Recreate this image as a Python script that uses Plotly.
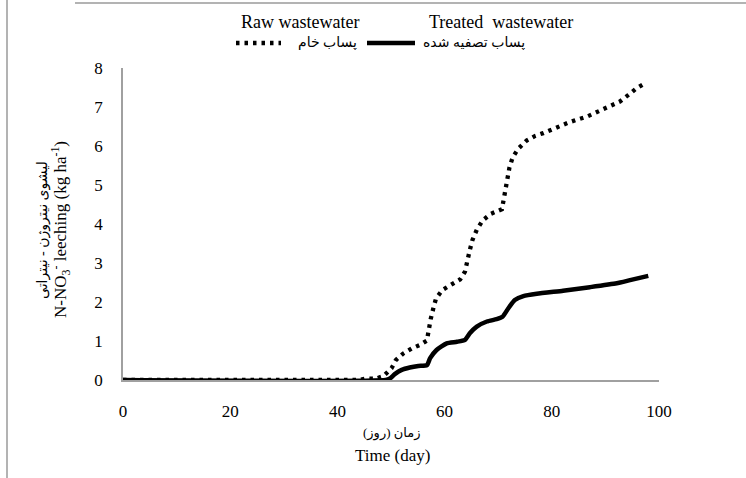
import plotly.graph_objects as go

# ---- data ----
raw_days = [0, 44, 45.5, 47, 48.6, 50.1, 50.9, 52.3, 53.9, 55.4, 56.7, 57.0, 57.4, 57.9,
            58.4, 59.6, 61.1, 62.9, 63.8, 64.2, 64.7, 65.2, 66.0, 67.1, 68.6, 70.7, 71.3,
            71.6, 72.1, 72.7, 73.8, 75.3, 76.9, 78.4, 80.0, 81.5, 83.1, 84.6, 86.5, 88.1,
            89.6, 91.2, 92.7, 94.3, 95.8, 97.4]
raw_vals = [0, 0, 0.04, 0.03, 0.1, 0.3, 0.51, 0.68, 0.81, 0.9, 1.01, 1.28, 1.56, 1.84,
            2.09, 2.31, 2.44, 2.58, 2.78, 3.06, 3.33, 3.59, 3.85, 4.09, 4.26, 4.38, 4.89,
            5.17, 5.45, 5.71, 5.94, 6.14, 6.26, 6.33, 6.43, 6.51, 6.6, 6.67, 6.75, 6.85,
            6.94, 7.03, 7.14, 7.31, 7.48, 7.61]

treated_days = [0, 49, 49.8, 50.7, 52.0, 53.5, 55.1, 56.7, 57.3, 58.5, 60.4, 62.3, 63.8,
                64.7, 66.0, 67.9, 69.7, 70.8, 71.9, 73.1, 74.7, 77.2, 82.1, 87.1, 92.1,
                94.6, 98.0]
treated_vals = [0, 0, 0.04, 0.15, 0.26, 0.32, 0.36, 0.38, 0.56, 0.77, 0.94, 0.98, 1.03,
                1.2, 1.37, 1.5, 1.56, 1.62, 1.84, 2.05, 2.15, 2.21, 2.29, 2.38, 2.48,
                2.56, 2.67]

x_ticks = [0, 20, 40, 60, 80, 100]
y_ticks = [0, 1, 2, 3, 4, 5, 6, 7, 8]

legend_en = ["Raw wastewater", "Treated  wastewater"]
legend_fa = ["پساب خام", "پساب تصفیه شده"]
x_title_fa = "زمان (روز)"
x_title_en = "Time (day)"
y_title_fa = "لیشوی نیتروژن - نیتراتی"
y_title_en = "N-NO<sub>3</sub><sup>-</sup> leeching (kg ha<sup>-1</sup>)"

FONT = "Liberation Serif, Times New Roman, DejaVu Serif, DejaVu Sans, serif"
W, H = 746, 478
L, R, T, B = 123, 87, 68, 98
pw, ph = W - L - R, H - T - B

def sx(xpix):
    return (xpix - L) / pw

def sy(ypix):
    return (H - ypix - B) / ph

fig = go.Figure()
fig.add_trace(go.Scatter(x=raw_days, y=raw_vals, mode="lines", name=legend_en[0],
                         line=dict(color="black", width=4.3, dash="3.5px,5px")))
fig.add_trace(go.Scatter(x=treated_days, y=treated_vals, mode="lines", name=legend_en[1],
                         line=dict(color="black", width=4.5, shape="spline", smoothing=0.5)))

ann = [
    dict(text=legend_en[0], x=sx(300), y=sy(22), size=18),
    dict(text=legend_en[1], x=sx(501), y=sy(22), size=18),
    dict(text=legend_fa[0], x=sx(327), y=sy(43), size=14),
    dict(text=legend_fa[1], x=sx(474), y=sy(43), size=14),
    dict(text=x_title_fa, x=sx(392), y=sy(433), size=13),
    dict(text=x_title_en, x=sx(392), y=sy(455), size=17),
    dict(text=y_title_fa, x=sx(43), y=sy(230), size=14, textangle=-90),
    dict(text=y_title_en, x=sx(61), y=sy(230), size=17, textangle=-90),
]
for a in ann:
    size = a.pop("size")
    a.update(xref="paper", yref="paper", showarrow=False, xanchor="center", yanchor="middle",
             font=dict(family=FONT, size=size, color="black"))

shapes = [
    # legend swatches
    dict(type="line", x0=sx(236), x1=sx(281), y0=sy(43), y1=sy(43),
         line=dict(color="black", width=4.3, dash="3.5px,5px")),
    dict(type="line", x0=sx(367), x1=sx(415), y0=sy(43), y1=sy(43),
         line=dict(color="black", width=4.5)),
    # frame lines of the original picture
    dict(type="line", x0=sx(7), x1=sx(7), y0=sy(0), y1=sy(478),
         line=dict(color="#9a9a9a", width=1.5)),
    dict(type="line", x0=sx(75), x1=sx(746), y0=sy(3), y1=sy(3),
         line=dict(color="#9a9a9a", width=1.5)),
]
for s in shapes:
    s.update(xref="paper", yref="paper")

fig.update_layout(
    width=W, height=H, margin=dict(l=L, r=R, t=T, b=B),
    paper_bgcolor="white", plot_bgcolor="white", showlegend=False,
    annotations=ann, shapes=shapes,
    font=dict(family=FONT, size=17, color="black"),
)
fig.update_xaxes(range=[0, 100], tickvals=x_ticks, showgrid=False, zeroline=False,
                 showline=True, linecolor="#a0a0a0", linewidth=1.5, ticks="",
                 ticklabelstandoff=15, tickfont=dict(family=FONT, size=17))
fig.update_yaxes(range=[0, 8], tickvals=y_ticks, showgrid=False, zeroline=False,
                 showline=True, linecolor="#a0a0a0", linewidth=1.5, ticks="",
                 ticklabelstandoff=15, tickfont=dict(family=FONT, size=17))

fig.write_html("out.html")
